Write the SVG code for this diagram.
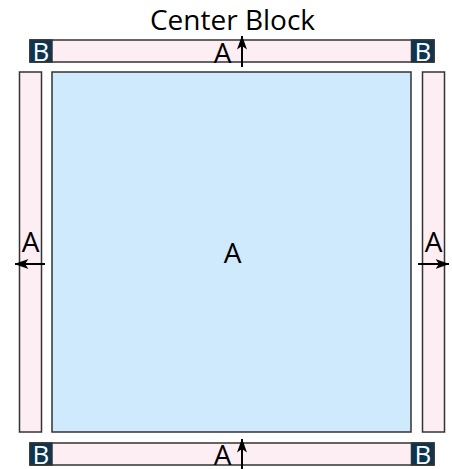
<svg xmlns="http://www.w3.org/2000/svg" width="452" height="469" viewBox="0 0 452 469">
<style>
.pink{fill:#fdeef4;stroke:#333;stroke-width:1.5}
.blue{fill:#cfeafc;stroke:#333;stroke-width:1.5}
.bblk{fill:#0b3552;stroke:#333;stroke-width:1.5}
.t{font-family:"Open Sans","Liberation Sans",sans-serif;font-size:28px;fill:#000;text-anchor:middle}
.bt{font-family:"Open Sans","Liberation Sans",sans-serif;font-size:26px;fill:#fff;text-anchor:middle}
.ar{stroke:#000;stroke-width:2;fill:none}
</style>
<defs>
<marker id="ah" markerWidth="14" markerHeight="12" viewBox="0 0 14 12" refX="13.5" refY="6" orient="auto" markerUnits="userSpaceOnUse">
<path d="M0,1 L14,6 L0,11 L3.5,6 Z" fill="#000"/>
</marker>
</defs>
<text class="t" x="232.5" y="30">Center Block</text>
<g id="center"><rect class="blue" x="52" y="72" width="359" height="360"/><text class="t" x="232.5" y="263">A</text></g>
<g id="top"><rect class="pink" x="30" y="40" width="404" height="22"/><rect class="bblk" x="30" y="40" width="22" height="22"/><rect class="bblk" x="411.5" y="40" width="22.5" height="22"/><text class="bt" x="41" y="60.5">B</text><text class="bt" x="423" y="60.5">B</text><text class="t" x="222.5" y="63">A</text></g>
<g id="bottom"><rect class="pink" x="30" y="443" width="404" height="22"/><rect class="bblk" x="30" y="443" width="22" height="22"/><rect class="bblk" x="411.5" y="443" width="22.5" height="22"/><text class="bt" x="41" y="463.5">B</text><text class="bt" x="423" y="463.5">B</text><text class="t" x="222.5" y="465">A</text></g>
<g id="left"><rect class="pink" x="19.5" y="72" width="22" height="360"/><text class="t" x="30.5" y="252">A</text></g>
<g id="right"><rect class="pink" x="422.5" y="72" width="22" height="360"/><text class="t" x="433.5" y="252">A</text></g>
<g id="connectors">
<line class="ar" x1="242" y1="67" x2="242" y2="36" marker-end="url(#ah)"/>
<line class="ar" x1="242" y1="470" x2="242" y2="439" marker-end="url(#ah)"/>
<line class="ar" x1="45" y1="264" x2="15" y2="264" marker-end="url(#ah)"/>
<line class="ar" x1="418" y1="264" x2="449" y2="264" marker-end="url(#ah)"/>
</g>
</svg>
